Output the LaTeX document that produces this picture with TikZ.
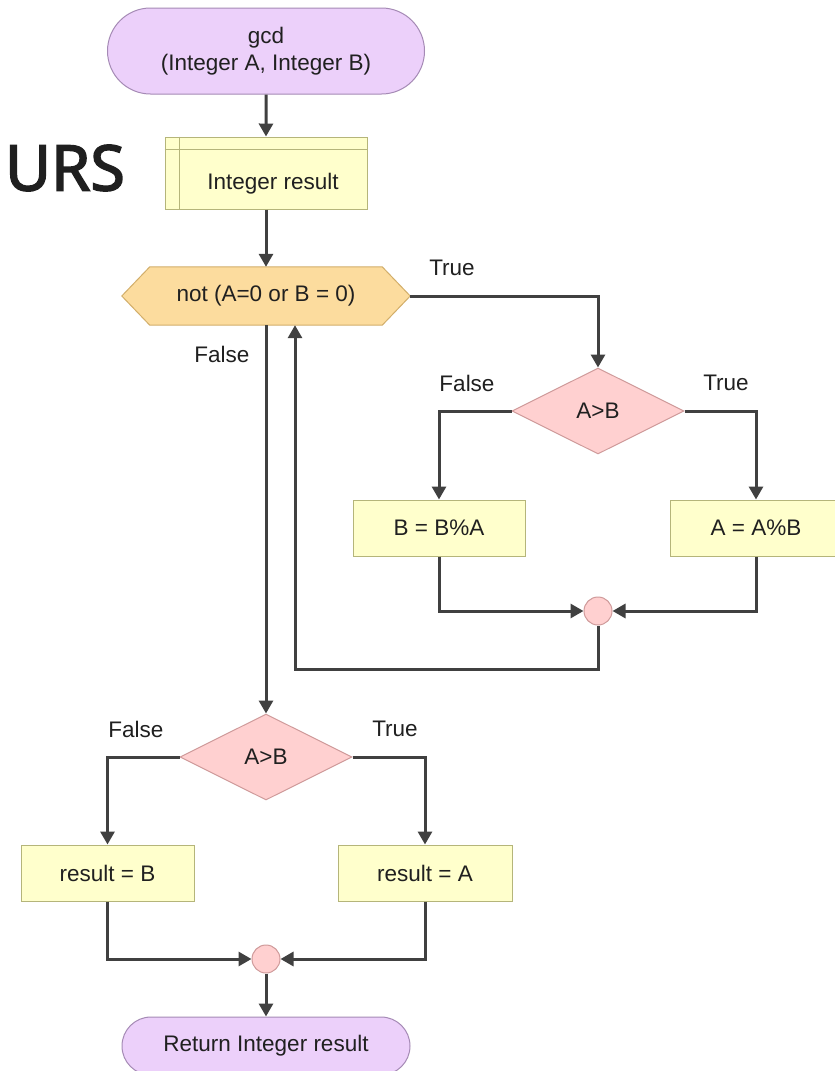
\documentclass[tikz,border=0pt]{standalone}
\usepackage{fontspec}
\setmainfont{Liberation Sans}
\newfontfamily\ursfont{Noto Sans}[AutoFakeBold=2.5]
\usetikzlibrary{shapes.geometric,shapes.misc,arrows.meta}
\pgfdeclarelayer{background}
\pgfsetlayers{background,main}
\definecolor{termfill}{HTML}{ECD0FA}
\definecolor{termdraw}{HTML}{A58AB5}
\definecolor{procfill}{HTML}{FFFFCC}
\definecolor{procdraw}{HTML}{B5B57A}
\definecolor{loopfill}{HTML}{FCDC9E}
\definecolor{loopdraw}{HTML}{D2AE6A}
\definecolor{decfill}{HTML}{FFD0D0}
\definecolor{decdraw}{HTML}{CF9A9A}
\definecolor{flow}{HTML}{404040}
\definecolor{txt}{HTML}{202020}
\definecolor{urscol}{HTML}{1F1F1F}
\tikzset{
  every node/.style={font=\fontsize{22.5}{27}\selectfont, text=txt},
  term/.style={rounded rectangle, draw=termdraw, fill=termfill, line width=1pt, inner sep=0pt, align=center},
  proc/.style={rectangle, draw=procdraw, fill=procfill, line width=1pt, minimum width=172pt, minimum height=56pt, inner sep=0pt},
  dec/.style={diamond, draw=decdraw, fill=decfill, line width=1pt, aspect=2, minimum width=172pt, minimum height=86pt, inner sep=0pt},
  junc/.style={circle, draw=decdraw, fill=decfill, line width=1pt, minimum size=28pt, inner sep=0pt},
  hexnode/.style={rectangle, minimum width=288pt, minimum height=58pt, inner sep=0pt},
  hexshape/.style={draw=loopdraw, fill=loopfill, line width=1pt},
  flowline/.style={draw=flow, line width=3pt, -{Triangle[length=13pt,width=14pt]}},
  lbl/.style={inner sep=0pt},
  boxline/.style={draw=procdraw, line width=1pt}
}
\begin{document}
\begin{tikzpicture}[x=1pt,y=-1pt]
\useasboundingbox (0,0) rectangle (835,1071);

% title fragment
\node[font=\ursfont\bfseries\fontsize{63}{63}\selectfont, text=urscol, inner sep=0pt] (urs) at (65,168) {URS};

% nodes
\node[term, minimum width=317pt, minimum height=86pt] (start) at (266,51) {gcd\\(Integer A, Integer B)};
\node[proc, minimum width=202pt, minimum height=72pt] (ir) at (266,173) {\hspace*{14pt}\raisebox{-16pt}[0pt][0pt]{Integer result}};
\node[hexnode] (loop) at (266,296) {not (A=0 or B = 0)};
\node[dec] (d1) at (598,411) {A>B};
\node[proc] (bba) at (439,528) {B = B\%A};
\node[proc] (aab) at (756,528) {A = A\%B};
\node[junc] (c1) at (598,611) {};
\node[dec] (d2) at (266,757) {A>B};
\node[proc, minimum width=173pt] (rb) at (107.5,873) {result = B};
\node[proc, minimum width=174pt] (ra) at (425,873) {result = A};
\node[junc] (c2) at (266,959) {};
\node[term, minimum width=288pt, minimum height=58pt] (end) at (266,1046) {Return Integer result};

% labels
\node[lbl] (lt1) at (452,268) {True};
\node[lbl] (lf1) at (222,354) {False};
\node[lbl] (lf2) at (467,383) {False};
\node[lbl] (lt2) at (726,383) {True};
\node[lbl] (lf3) at (136,729) {False};
\node[lbl] (lt3) at (395,729) {True};

% decorations of shapes
\begin{pgfonlayer}{background}
\fill[white] (0,0) rectangle (835,1071);
\path[hexshape] (loop.west) -- ([xshift=28pt]loop.north west) -- ([xshift=-28pt]loop.north east) -- (loop.east) -- ([xshift=-28pt]loop.south east) -- ([xshift=28pt]loop.south west) -- cycle;
\end{pgfonlayer}
\draw[boxline] ([xshift=15pt]ir.north west) -- ([xshift=15pt]ir.south west);
\draw[boxline] ([yshift=-13pt]ir.north west) -- ([yshift=-13pt]ir.north east);

% connectors
\coordinate (back) at (295,669);
\draw[flowline] (start) -- (ir);
\draw[flowline] (ir) -- (loop);
\draw[flowline] (loop.east) -| (d1.north);
\draw[flowline] (d1.west) -| (bba.north);
\draw[flowline] (d1.east) -| (aab.north);
\draw[flowline] (bba.south) |- (c1.west);
\draw[flowline] (aab.south) |- (c1.east);
\draw[flowline] (c1.south) |- (back) -- (back |- loop.south);
\draw[flowline] (loop.south) -- (d2.north);
\draw[flowline] (d2.west) -| (rb.north);
\draw[flowline] (d2.east) -| (ra.north);
\draw[flowline] (rb.south) |- (c2.west);
\draw[flowline] (ra.south) |- (c2.east);
\draw[flowline] (c2) -- (end);
\end{tikzpicture}
\end{document}
